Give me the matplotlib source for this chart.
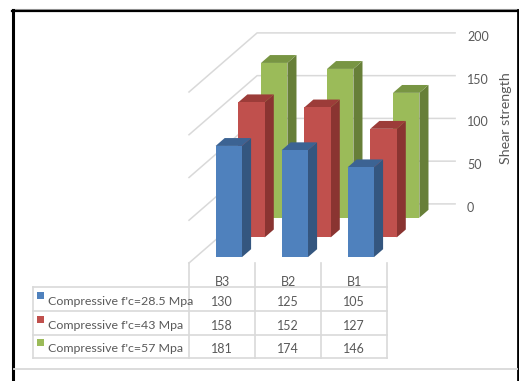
import numpy as np
import matplotlib
matplotlib.use('Agg')
import matplotlib.pyplot as plt
from matplotlib.patches import Polygon, Rectangle

plt.rcParams['font.family'] = ['Lato', 'DejaVu Sans']

# data
categories = ['B3', 'B2', 'B1']
series_names = ["Compressive f'c=28.5 Mpa", "Compressive f'c=43 Mpa", "Compressive f'c=57 Mpa"]
fc_28_5 = [130, 125, 105]
fc_43 = [158, 152, 127]
fc_57 = [181, 174, 146]
yticks = [0, 50, 100, 150, 200]

face_c = ['#4F81BD', '#C0504D', '#9BBB59']
side_c = ['#34567F', '#8A3431', '#677F38']
top_c = ['#3C6393', '#9C3C39', '#789543']
grid_c = '#D9D9D9'
txt_c = '#595959'

W, H = 519, 381
fig = plt.figure(figsize=(W / 100, H / 100), dpi=100)

# chart axes in (category, value) units
x0px, y0px, cw, vs = 189, 263, 66, 0.855
ax = fig.add_axes([0, 0, 1, 1])
ax.set_xlim(-x0px / cw, (W - x0px) / cw)
ax.set_ylim((y0px - H) / vs, y0px / vs)
ax.axis('off')
dx, dy = 22.7 / cw, 19.7 / vs  # oblique offset per depth slot
ncat = len(categories)
nser = 3


def P(x, v, d):
    return (x + d * dx, v + d * dy)


# back wall + side wall gridlines
for t in yticks:
    ax.plot(*zip(P(0, t, 0), P(0, t, nser), P(ncat, t, nser)), color=grid_c, lw=1.1, zorder=1)
    px, py = P(ncat, t, nser)
    ax.text(px + 12 / cw, py - 4 / vs, str(t), ha='left', va='center', fontsize=9, color=txt_c)

ax.text((506 - x0px) / cw, (y0px - 118) / vs, 'Shear strength', rotation=90,
        ha='center', va='center', fontsize=10.3, color=txt_c)

# 3d bars, back row first
series = [fc_28_5, fc_43, fc_57]
for r in range(nser - 1, -1, -1):
    for i, v in enumerate(series[r]):
        xa, xb = i + 0.3, i + 0.7
        df, db = r + 0.3, r + 0.7
        z = 10 + (nser - r) * 3
        ax.add_patch(Polygon([P(xb, 0, df), P(xb, 0, db), P(xb, v, db), P(xb, v, df)],
                             closed=True, fc=side_c[r], ec='none', zorder=z))
        ax.add_patch(Polygon([P(xa, v, df), P(xb, v, df), P(xb, v, db), P(xa, v, db)],
                             closed=True, fc=top_c[r], ec='none', zorder=z))
        ax.add_patch(Polygon([P(xa, 0, df), P(xb, 0, df), P(xb, v, df), P(xa, v, df)],
                             closed=True, fc=face_c[r], ec='none', zorder=z + 1))

# overlay in pixel units: data table and frame
ov = fig.add_axes([0, 0, 1, 1], facecolor='none')
ov.set_xlim(0, W)
ov.set_ylim(H, 0)
ov.axis('off')

col_x = [x0px + cw * i for i in range(ncat + 1)]
row_y = [287, 311, 335, 358]
left_x = 33
for yy in row_y:
    ov.plot([left_x, col_x[-1]], [yy, yy], color=grid_c, lw=1.2, zorder=2)
ov.plot([left_x, left_x], [row_y[0], row_y[-1]], color=grid_c, lw=1.2, zorder=2)
for xx in col_x:
    ov.plot([xx, xx], [y0px, row_y[-1]], color=grid_c, lw=1.2, zorder=2)

for i, c in enumerate(categories):
    ov.text(x0px + cw * (i + 0.5), 281.5, c, ha='center', va='center', fontsize=9, color=txt_c)

for r in range(nser):
    yc = (row_y[r] + row_y[r + 1]) / 2 + 2.5
    ov.add_patch(Rectangle((37, yc - 10), 7, 7, fc=face_c[r], ec='none', zorder=3))
    ov.text(48, yc, series_names[r], ha='left', va='center', fontsize=8.9, color=txt_c)
    for i, v in enumerate(series[r]):
        ov.text(x0px + cw * (i + 0.5), yc, str(v), ha='center', va='center', fontsize=9, color=txt_c)

# screenshot frame
ov.plot([12, W], [9, 9], color='#A0A0A0', lw=0.8)
ov.plot([12, W], [10.5, 10.5], color='black', lw=1.6)
ov.plot([13, 13], [10, H], color='black', lw=2.2)
ov.plot([518, 518], [10, H], color='black', lw=2.0)
ov.plot([14, 517], [369, 369], color=grid_c, lw=1.3)

fig.savefig('out.png', dpi=100, facecolor='white')
